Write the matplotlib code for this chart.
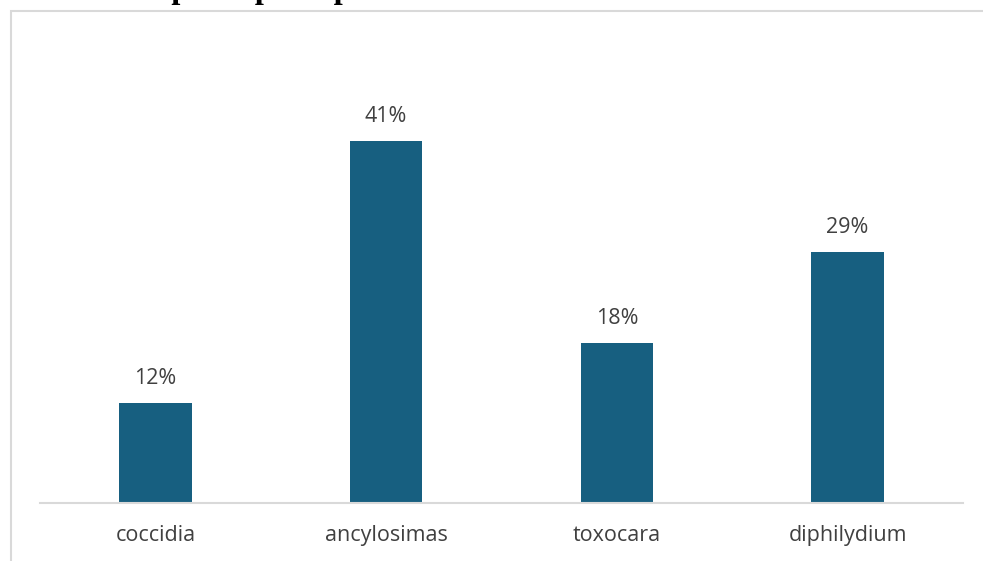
import matplotlib.pyplot as plt
from matplotlib.patches import Rectangle

species = ['coccidia', 'ancylosimas', 'toxocara', 'diphilydium']
prevalence = [11.4, 41.1, 18.2, 28.5]
labels = ['12%', '41%', '18%', '29%']

W, H = 983, 561
fig = plt.figure(figsize=(W / 100, H / 100), dpi=100)

# light grey chart frame, partly cut off by the image edge
fig.patches.append(Rectangle((11 / W, -0.05), 1.1, 1 - 11 / H + 0.05,
                             transform=fig.transFigure, fill=False,
                             edgecolor='#d9d9d9', linewidth=1.5))

# title, mostly cropped at the top
fig.text(1 / W, 1 + 2 / H, 'Prevalencia por especie parasitaria',
         family='Liberation Serif', weight='bold', fontsize=23.5,
         va='baseline', ha='left', color='black')

ax = fig.add_axes([40 / W, 58 / H, 923 / W, 443 / H])
x = range(len(species))
bars = ax.bar(x, prevalence, width=0.315, color='#175f80')
for b, lab in zip(bars, labels):
    ax.annotate(lab, (b.get_x() + b.get_width() / 2, b.get_height()),
                xytext=(0, 14), textcoords='offset pixels',
                ha='center', va='bottom', fontsize=15.5,
                family='Open Sans', color='#404040')

ax.set_xlim(-0.5, len(species) - 0.5)
ax.set_ylim(0, 50.3)
ax.set_xticks(list(x))
ax.set_xticklabels(species, fontsize=15.5, family='Open Sans', color='#404040')
ax.tick_params(axis='x', length=0, pad=16)
ax.set_yticks([])
for s in ['top', 'right', 'left']:
    ax.spines[s].set_visible(False)
ax.spines['bottom'].set_color('#d9d9d9')
ax.spines['bottom'].set_linewidth(1.5)

fig.savefig('out.png', dpi=100)
